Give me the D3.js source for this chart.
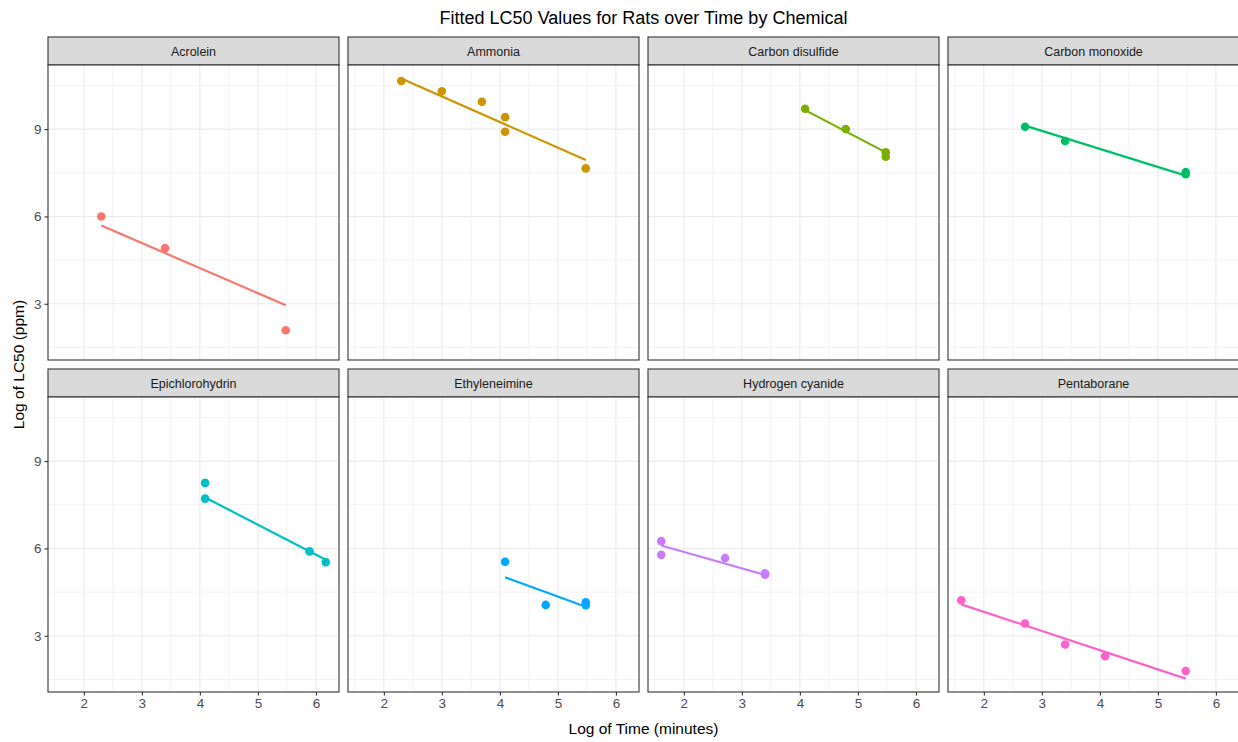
<!DOCTYPE html>
<html>
<head>
<meta charset="utf-8">
<script src="https://cdn.jsdelivr.net/npm/d3@7"></script>
<style>
  body { margin: 0; background: #fff; }
  text { font-family: "Liberation Sans", Arial, sans-serif; }
</style>
</head>
<body>
<div id="chart"></div>
<script>
// chemicals and hue colours (ggplot default palette)
const chemicals = ["Acrolein", "Ammonia", "Carbon disulfide", "Carbon monoxide",
    "Epichlorohydrin", "Ethyleneimine", "Hydrogen cyanide", "Pentaborane"];
const colors = ["#F8766D", "#CD9600", "#7CAE00", "#00BE67",
    "#00BFC4", "#00A9FF", "#C77CFF", "#FF61CC"];

// log of time (minutes) per chemical
const logTime = [
    [2.30, 3.40, 5.48],
    [2.30, 3.00, 3.69, 4.09, 4.09, 5.48],
    [4.09, 4.79, 5.48, 5.48],
    [2.71, 3.40, 5.48, 5.48],
    [4.09, 4.09, 5.89, 6.17],
    [4.09, 4.79, 5.48, 5.48],
    [1.61, 1.61, 2.71, 3.40, 3.40],
    [1.61, 2.71, 3.40, 4.09, 5.48]
];
// log of LC50 (ppm) per chemical
const logLC50 = [
    [6.00, 4.91, 2.09],
    [10.65, 10.30, 9.94, 9.41, 8.91, 7.65],
    [9.70, 9.00, 8.20, 8.05],
    [9.08, 8.59, 7.52, 7.45],
    [8.25, 7.71, 5.90, 5.53],
    [5.54, 4.06, 4.15, 4.05],
    [6.25, 5.78, 5.67, 5.15, 5.10],
    [4.22, 3.42, 2.70, 2.30, 1.79]
];
// fitted line values at the smallest and largest time of each chemical
const fitStart = [5.69, 10.74, 9.65, 9.12, 7.75, 5.01, 6.10, 4.08];
const fitEnd = [2.95, 7.94, 8.20, 7.40, 5.61, 4.00, 5.09, 1.53];

const xTicks = [2, 3, 4, 5, 6];
const yTicks = [3, 6, 9];

const W = 1238, H = 742;
const left = 48, panelW = 291, stepX = 300;
const stripH = 28, panelH = 295;
const rowTop = [37, 369];

const svg = d3.select("#chart").append("svg")
    .attr("width", W).attr("height", H);

// scales with ggplot-like 5% expansion
const expand = ext => { const p = (ext[1] - ext[0]) * 0.05; return [ext[0] - p, ext[1] + p]; };
const allX = logTime.flat();
const allY = logLC50.flat().concat(fitStart, fitEnd);
const x = d3.scaleLinear().domain(expand(d3.extent(allX))).range([0, panelW]);
const y = d3.scaleLinear().domain(expand(d3.extent(allY))).range([panelH, 0]);

const xMinor = d3.range(1.5, 7, 1).filter(v => v >= x.domain()[0] && v <= x.domain()[1]);
const yMinor = d3.range(1.5, 12, 3).filter(v => v >= y.domain()[0] && v <= y.domain()[1]);

chemicals.forEach((chem, i) => {
    const col = i % 4, row = Math.floor(i / 4);
    const g = svg.append("g")
        .attr("transform", `translate(${left + col * stepX},${rowTop[row]})`);

    // strip
    g.append("rect").attr("width", panelW).attr("height", stripH)
        .attr("fill", "#D9D9D9").attr("stroke", "#333333").attr("stroke-width", 1.1);
    g.append("text").attr("x", panelW / 2).attr("y", stripH / 2 + 4.5)
        .attr("text-anchor", "middle").attr("font-size", 12.5).attr("fill", "#1A1A1A")
        .text(chem);

    const p = g.append("g").attr("transform", `translate(0,${stripH})`);
    p.append("rect").attr("width", panelW).attr("height", panelH).attr("fill", "#fff");

    // grid
    p.selectAll(".xminor").data(xMinor).enter().append("line")
        .attr("x1", d => x(d)).attr("x2", d => x(d)).attr("y1", 0).attr("y2", panelH)
        .attr("stroke", "#EBEBEB").attr("stroke-width", 0.6);
    p.selectAll(".yminor").data(yMinor).enter().append("line")
        .attr("y1", d => y(d)).attr("y2", d => y(d)).attr("x1", 0).attr("x2", panelW)
        .attr("stroke", "#EBEBEB").attr("stroke-width", 0.6);
    p.selectAll(".xmajor").data(xTicks).enter().append("line")
        .attr("x1", d => x(d)).attr("x2", d => x(d)).attr("y1", 0).attr("y2", panelH)
        .attr("stroke", "#EBEBEB").attr("stroke-width", 1.1);
    p.selectAll(".ymajor").data(yTicks).enter().append("line")
        .attr("y1", d => y(d)).attr("y2", d => y(d)).attr("x1", 0).attr("x2", panelW)
        .attr("stroke", "#EBEBEB").attr("stroke-width", 1.1);

    // fitted line
    const ext = d3.extent(logTime[i]);
    p.append("path")
        .datum([[ext[0], fitStart[i]], [ext[1], fitEnd[i]]])
        .attr("fill", "none").attr("stroke", colors[i]).attr("stroke-width", 2.2)
        .attr("d", d3.line().x(d => x(d[0])).y(d => y(d[1])));

    // points
    p.selectAll("circle").data(logTime[i].map((t, j) => [t, logLC50[i][j]]))
        .enter().append("circle")
        .attr("cx", d => x(d[0])).attr("cy", d => y(d[1])).attr("r", 4.3)
        .attr("fill", colors[i]);

    // border
    p.append("rect").attr("width", panelW).attr("height", panelH)
        .attr("fill", "none").attr("stroke", "#333333").attr("stroke-width", 1.1);

    // axes
    if (col === 0) {
        const ay = p.append("g").call(d3.axisLeft(y).tickValues(yTicks).tickFormat(d3.format("d")).tickSize(3.5).tickPadding(3));
        ay.select(".domain").remove();
        ay.selectAll(".tick line").attr("stroke", "#333333").attr("stroke-width", 1.1);
        ay.selectAll(".tick text").attr("fill", "#4D4D4D").attr("font-size", 13.5)
            .style("font-family", "Liberation Sans, Arial, sans-serif");
    }
    if (row === 1) {
        const ax = p.append("g").attr("transform", `translate(0,${panelH})`)
            .call(d3.axisBottom(x).tickValues(xTicks).tickFormat(d3.format("d")).tickSize(3.5).tickPadding(3));
        ax.select(".domain").remove();
        ax.selectAll(".tick line").attr("stroke", "#333333").attr("stroke-width", 1.1);
        ax.selectAll(".tick text").attr("fill", "#4D4D4D").attr("font-size", 13.5)
            .style("font-family", "Liberation Sans, Arial, sans-serif");
    }
});

// titles
const mid = left + (3 * stepX + panelW) / 2;
svg.append("text").attr("x", mid).attr("y", 24)
    .attr("text-anchor", "middle").attr("font-size", 18).attr("fill", "#000")
    .text("Fitted LC50 Values for Rats over Time by Chemical");
svg.append("text").attr("x", mid).attr("y", 734)
    .attr("text-anchor", "middle").attr("font-size", 15.5).attr("fill", "#000")
    .text("Log of Time (minutes)");
svg.append("text")
    .attr("transform", `translate(24,${(rowTop[0] + rowTop[1] + stripH + panelH) / 2}) rotate(-90)`)
    .attr("text-anchor", "middle").attr("font-size", 15.5).attr("fill", "#000")
    .text("Log of LC50 (ppm)");
</script>
</body>
</html>
